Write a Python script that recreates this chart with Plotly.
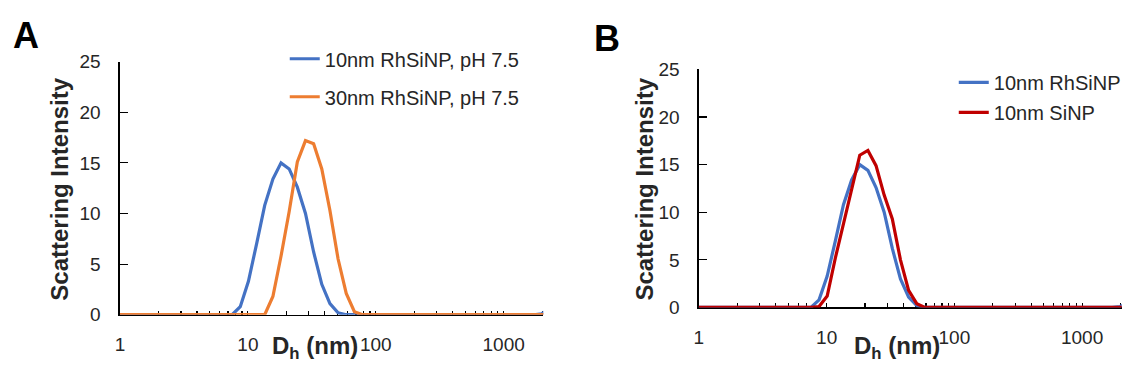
import plotly.graph_objects as go

# Hydrodynamic diameter bins (nm), log-spaced as in the DLS instrument output
size_nm = [0.9649, 1.117, 1.294, 1.499, 1.736, 2.010, 2.328, 2.696, 3.122, 3.615,
           4.187, 4.849, 5.615, 6.503, 7.531, 8.721, 10.10, 11.70, 13.54, 15.69,
           18.17, 21.04, 24.36, 28.21, 32.67, 37.84, 43.82, 50.75, 58.77, 68.06,
           78.82, 91.28, 105.7, 122.4, 141.8, 164.2, 190.1, 220.2, 255.0, 295.3,
           342.0, 396.1, 458.7, 531.2, 615.1, 712.4, 825.0, 955.4, 1106, 1281,
           1484, 1718, 1990, 2305]

# Scattering intensity (%)
rhsinp_10nm = [0, 0, 0, 0, 0, 0, 0, 0, 0, 0,
               0, 0, 0, 0, 0, 0.8, 3.3, 7.0, 10.8, 13.4,
               15.0, 14.4, 12.6, 10.0, 6.2, 3.0, 1.1, 0.2, 0, 0,
               0, 0, 0, 0, 0, 0, 0, 0, 0, 0,
               0, 0, 0, 0, 0, 0, 0, 0, 0, 0,
               0, 0, 0.1, 0.6]
rhsinp_30nm = [0, 0, 0, 0, 0, 0, 0, 0, 0, 0,
               0, 0, 0, 0, 0, 0, 0, 0, 0, 1.8,
               5.8, 10.2, 15.1, 17.2, 16.9, 14.4, 10.3, 5.5, 2.1, 0.3,
               0, 0, 0, 0, 0, 0, 0, 0, 0, 0,
               0, 0, 0, 0, 0, 0, 0, 0, 0, 0,
               0, 0, 0, 0]
sinp_10nm = [0, 0, 0, 0, 0, 0, 0, 0, 0, 0,
             0, 0, 0, 0, 0, 0.1, 1.2, 5.2, 8.8, 12.5,
             16.0, 16.5, 14.9, 11.8, 9.3, 5.0, 1.8, 0.4, 0, 0,
             0, 0, 0, 0, 0, 0, 0, 0, 0, 0,
             0, 0, 0, 0, 0, 0, 0, 0, 0, 0,
             0, 0, 0, 0]

names_a = ["10nm RhSiNP, pH 7.5", "30nm RhSiNP, pH 7.5"]
names_b = ["10nm RhSiNP", "10nm SiNP"]
x_tick_vals = [1, 10, 100, 1000]
x_tick_text = ["1", "10", "100", "1000"]
y_tick_vals = [0, 5, 10, 15, 20, 25]

BLUE = "#4472C4"
ORANGE = "#ED7D31"
RED = "#C00000"
FONT = "Liberation Sans, Arial, sans-serif"
W, H = 1126, 377

fig = go.Figure()
fig.add_trace(go.Scatter(x=size_nm, y=rhsinp_10nm, mode="lines", name=names_a[0],
                         line=dict(color=BLUE, width=3.2), xaxis="x", yaxis="y",
                         legend="legend", legendgroup="a1"))
fig.add_trace(go.Scatter(x=size_nm, y=rhsinp_30nm, mode="lines", name=names_a[1],
                         line=dict(color=ORANGE, width=3.2), xaxis="x", yaxis="y",
                         legend="legend", legendgroup="a2"))
fig.add_trace(go.Scatter(x=size_nm, y=rhsinp_10nm, mode="lines", name=names_b[0],
                         line=dict(color=BLUE, width=3.2), xaxis="x2", yaxis="y2",
                         legend="legend2", legendgroup="b1"))
fig.add_trace(go.Scatter(x=size_nm, y=sinp_10nm, mode="lines", name=names_b[1],
                         line=dict(color=RED, width=3.2), xaxis="x2", yaxis="y2",
                         legend="legend2", legendgroup="b2"))

minor_vals = [m * 10 ** e for e in range(0, 4) for m in range(2, 10)]

def xax(domain, anchor):
    return dict(domain=domain, anchor=anchor, type="log", range=[0, 3.31],
                tickmode="array", tickvals=x_tick_vals, ticktext=x_tick_text,
                ticks="inside", ticklen=4, tickwidth=1.2, tickcolor="black",
                showline=True, linecolor="black", linewidth=1.5, showgrid=False,
                zeroline=False, layer="below traces",
                tickfont=dict(family=FONT, size=19, color="#262626"),
                ticklabelstandoff=12,
                minor=dict(tickmode="array", tickvals=minor_vals, ticks="inside",
                           ticklen=4, tickwidth=1.2, tickcolor="black", showgrid=False))

def yax(domain, anchor):
    return dict(domain=domain, anchor=anchor, range=[0, 25], tickmode="array",
                tickvals=y_tick_vals, ticks="inside", ticklen=8, tickwidth=1.2,
                tickcolor="black", showline=True, linecolor="black", linewidth=1.5,
                showgrid=False, zeroline=False, layer="below traces",
                tickfont=dict(family=FONT, size=19, color="#262626"),
                ticklabelstandoff=14)

# plot areas (pixel measurements converted to paper fractions)
ax_a = [115.5 / W, 540.7 / W]
ay_a = [1 - 322.7 / H, 1 - 54.7 / H]
ax_b = [697 / W, 1121.7 / W]
ay_b = [1 - 315 / H, 1 - 63 / H]

fig.update_layout(
    width=W, height=H, margin=dict(l=0, r=0, t=0, b=0),
    paper_bgcolor="white", plot_bgcolor="white",
    font=dict(family=FONT, color="#262626"),
    xaxis=xax(ax_a, "y"), yaxis=yax(ay_a, "x"),
    xaxis2=xax(ax_b, "y2"), yaxis2=yax(ay_b, "x2"),
    legend=dict(x=281 / W, y=1 - 31 / H, xanchor="left", yanchor="top",
                font=dict(family=FONT, size=20, color="#262626"),
                bgcolor="rgba(0,0,0,0)", traceorder="grouped", tracegroupgap=9),
    legend2=dict(x=953 / W, y=1 - 56 / H, xanchor="left", yanchor="top",
                 font=dict(family=FONT, size=20, color="#262626"),
                 bgcolor="rgba(0,0,0,0)", traceorder="grouped", tracegroupgap=1),
    showlegend=True,
)

ann = []
# panel letters
ann.append(dict(text="<b>A</b>", x=21.5 / W, y=1 - 27.5 / H, xref="paper", yref="paper",
                showarrow=False, xanchor="center", yanchor="middle",
                font=dict(family=FONT, size=36, color="black")))
ann.append(dict(text="<b>B</b>", x=604.5 / W, y=1 - 30.5 / H, xref="paper", yref="paper",
                showarrow=False, xanchor="center", yanchor="middle",
                font=dict(family=FONT, size=36, color="black")))
# axis titles
for cx, cy in [(55 / W, 1 - 189.5 / H), (642.5 / W, 1 - 189.5 / H)]:
    ann.append(dict(text="<b>Scattering Intensity</b>", x=cx, y=cy, xref="paper",
                    yref="paper", showarrow=False, textangle=-90,
                    xanchor="center", yanchor="middle",
                    font=dict(family=FONT, size=24, color="#262626")))
for cx in [311.5 / W, 895.6 / W]:
    ann.append(dict(text="<b>D<sub>h</sub> (nm)</b>", x=cx, y=1 - 357 / H, xref="paper",
                    yref="paper", showarrow=False, xanchor="center", yanchor="middle",
                    font=dict(family=FONT, size=24, color="#262626")))
fig.update_layout(annotations=ann)

fig.write_html("out.html",
               config={"displayModeBar": False, "staticPlot": True},
               post_script="document.body.style.margin='0px';"
                           "document.body.style.overflow='hidden';")
